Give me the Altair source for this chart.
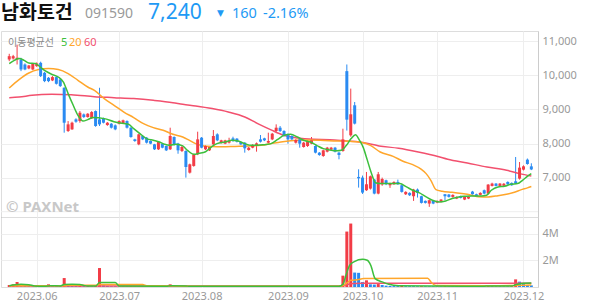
import altair as alt
import pandas as pd

RED = "#f23c46"
BLUE = "#2a8bf2"
MA5_C = "#3cbf3c"
MA20_C = "#ffa62b"
MA60_C = "#f2506e"
TITLE_BLUE = "#1e9af5"

# ---- daily candles (trading-day index 0..133, 2023-05-22 .. 2023-12-05) ----
opens = [10465, 10494, 10465, 10465, 10318, 10201, 10172, 10270, 10367, 10074,
         9928, 9850, 9948, 9879, 9635, 8366, 8415, 8708, 8659, 8854,
         8776, 8737, 8952, 8708, 8737, 8542, 8581, 8532, 8581, 8600,
         8659, 8464, 8122, 7976, 8220, 8171, 8074, 7976, 7830, 7996,
         7927, 7830, 8191, 8000, 7781, 7781, 7146, 7342, 7683, 8171,
         7830, 7800, 7976, 8269, 8025, 7996, 8025, 8152, 8142, 8044,
         8025, 7810, 7878, 7927, 8122, 8152, 8025, 8122, 8366, 8464,
         8366, 8269, 8220, 8025, 8122, 7898, 7927, 7996, 7927, 7732,
         7634, 7761, 7820, 7878, 7732, 7781, 10123, 8240, 9121, 7020,
         7000, 6630, 6678, 6942, 6532, 6800, 6922, 6776, 6805, 6873,
         6776, 6512, 6552, 6454, 6649, 6454, 6317, 6239, 6317, 6269,
         6288, 6512, 6503, 6434, 6386, 6454, 6356, 6386, 6590, 6512,
         6493, 6630, 6532, 6756, 6825, 6756, 6760, 6873, 6844, 6893,
         6971, 7234, 7527, 7330]
highs = [10631, 10600, 10900, 10514, 10350, 10300, 10360, 10380, 10400, 10100,
         9950, 9980, 9970, 9900, 9650, 8659, 8640, 8740, 8952, 8880,
         8890, 8950, 8970, 9635, 8760, 8630, 8600, 8560, 8680, 8700,
         8680, 8480, 8140, 8290, 8240, 8190, 8090, 7990, 8060, 8010,
         7940, 8464, 8210, 8020, 7950, 7800, 7410, 7700, 8347, 8190,
         7950, 7920, 8396, 8300, 8110, 8110, 8170, 8200, 8160, 8060,
         8040, 7900, 7980, 8030, 8249, 8170, 8318, 8310, 8562, 8513,
         8390, 8290, 8240, 8130, 8140, 8050, 8100, 8191, 7950, 7750,
         7820, 7900, 7900, 7900, 7750, 8435, 10318, 9610, 9218, 7244,
         7060, 7166, 7060, 6960, 7166, 7000, 6940, 6850, 6890, 6942,
         6800, 6600, 6570, 6670, 6680, 6470, 6330, 6350, 6330, 6330,
         6370, 6520, 6520, 6510, 6450, 6470, 6450, 6450, 6610, 6530,
         6570, 6650, 6810, 6850, 6840, 6840, 6840, 6890, 6860, 7605,
         7458, 7360, 7560, 7420]
lows = [10416, 10460, 10318, 10123, 10150, 10180, 10150, 10250, 9950, 9800,
        9800, 9830, 9730, 9660, 8318, 8340, 8400, 8610, 8610, 8750,
        8760, 8720, 8490, 8513, 8590, 8520, 8440, 8390, 8560, 8580,
        8440, 8170, 8050, 7950, 8100, 8000, 7980, 7810, 7810, 7860,
        7780, 7810, 7940, 7700, 7750, 7000, 7120, 7320, 7660, 7860,
        7810, 7780, 7927, 8070, 8000, 7980, 8000, 8050, 8030, 7960,
        7732, 7790, 7860, 7761, 8030, 8070, 8000, 8100, 8340, 8340,
        8200, 7996, 8100, 8000, 7878, 7880, 7900, 7980, 7710, 7640,
        7610, 7740, 7800, 7740, 7537, 7760, 8380, 8200, 8560, 6707,
        6520, 6610, 6650, 6510, 6510, 6760, 6780, 6700, 6790, 6790,
        6560, 6490, 6460, 6317, 6415, 6240, 6240, 6142, 6220, 6250,
        6270, 6337, 6415, 6415, 6370, 6390, 6340, 6370, 6500, 6440,
        6480, 6510, 6510, 6740, 6740, 6740, 6745, 6790, 6760, 6810,
        6942, 7210, 7380, 7220]
closes = [10562, 10562, 10514, 10172, 10172, 10289, 10338, 10348, 9977, 9830,
          9830, 9948, 9752, 9684, 8610, 8562, 8610, 8640, 8903, 8776,
          8874, 8923, 8513, 8562, 8610, 8610, 8464, 8415, 8659, 8680,
          8464, 8191, 8074, 8269, 8122, 8025, 7996, 7830, 8044, 7878,
          7800, 8220, 7956, 7800, 7898, 7312, 7390, 7683, 8122, 7878,
          7927, 7898, 8220, 8093, 8093, 8093, 8074, 8074, 8054, 7976,
          7859, 7878, 7956, 8005, 8054, 8093, 8074, 8288, 8464, 8366,
          8220, 8122, 8122, 8103, 7996, 8025, 8074, 8093, 7732, 7664,
          7800, 7878, 7878, 7761, 7664, 8122, 8700, 8857, 8584, 6980,
          6561, 6805, 7039, 6532, 7098, 6960, 6805, 6825, 6873, 6805,
          6581, 6581, 6483, 6649, 6552, 6259, 6259, 6337, 6239, 6317,
          6356, 6454, 6434, 6493, 6434, 6405, 6434, 6434, 6512, 6454,
          6552, 6532, 6795, 6825, 6756, 6825, 6820, 6805, 6776, 6825,
          7293, 7331, 7400, 7240]
# volume in millions of shares
volumes_m = [0.15, 0.20, 0.37, 0.10, 0.08, 0.08, 0.07, 0.07, 0.07, 0.06,
             0.20, 0.08, 0.07, 0.06, 0.67, 0.10, 0.08, 0.07, 0.09, 0.06,
             0.06, 0.05, 0.08, 1.42, 0.12, 0.08, 0.06, 0.06, 0.05, 0.05,
             0.05, 0.06, 0.05, 0.05, 0.04, 0.04, 0.04, 0.04, 0.04, 0.04,
             0.04, 0.20, 0.05, 0.05, 0.04, 0.05, 0.05, 0.04, 0.06, 0.05,
             0.04, 0.04, 0.05, 0.04, 0.04, 0.04, 0.04, 0.04, 0.04, 0.04,
             0.04, 0.04, 0.04, 0.04, 0.04, 0.04, 0.04, 0.05, 0.06, 0.05,
             0.04, 0.04, 0.04, 0.04, 0.04, 0.04, 0.04, 0.04, 0.04, 0.04,
             0.04, 0.04, 0.04, 0.04, 0.04, 0.85, 4.15, 4.75, 1.08, 1.06,
             0.37, 0.50, 0.20, 0.18, 0.22, 0.15, 0.10, 0.08, 0.07, 0.07,
             0.08, 0.06, 0.06, 0.06, 0.05, 0.06, 0.05, 0.05, 0.05, 0.05,
             0.05, 0.06, 0.05, 0.05, 0.05, 0.05, 0.05, 0.05, 0.05, 0.05,
             0.05, 0.05, 0.13, 0.08, 0.06, 0.06, 0.05, 0.05, 0.06, 0.57,
             0.40, 0.25, 0.15, 0.12]

# ---- moving averages (index, value) ----
ma5_x = [0.0, 1.3, 2.5, 3.8, 5.0, 6.7, 7.9, 9.2, 10.8, 12.5, 13.8, 15.0, 16.3, 17.5, 18.8, 20.0,
         21.3, 24.2, 26.7, 29.2, 30.4, 31.7, 33.3, 35.0, 36.7, 38.3, 39.6, 40.8, 42.5, 44.2,
         45.4, 47.1, 48.3, 50.0, 51.7, 52.9, 55.0, 56.7, 58.3, 60.0, 61.7, 63.3, 65.0, 66.7,
         68.4, 70.0, 71.7, 73.4, 75.0, 76.7, 78.4, 80.0, 81.7, 83.4, 84.6, 85.9, 87.1, 88.2,
         89.2, 90.2, 91.2, 92.2, 93.3, 94.5, 96.2, 99.5, 101.2, 102.8, 104.5, 106.2, 107.8,
         109.5, 111.2, 112.8, 114.5, 116.2, 117.8, 120.3, 121.6, 122.8, 124.5, 126.2, 127.8,
         129.5, 130.75, 132.0, 133.0]
ma5_y = [10344, 10440, 10490, 10440, 10361, 10344, 10244, 10127, 10030, 9951, 9804, 9464, 9121,
         8827, 8660, 8701, 8760, 8730, 8640, 8584, 8564, 8437, 8290, 8144, 8094, 8044, 7977,
         7947, 7977, 7930, 7800, 7683, 7712, 7760, 7918, 7997, 8044, 8094, 8074, 7997, 7947,
         7947, 7967, 7997, 8120, 8241, 8270, 8192, 8094, 8044, 7940, 7850, 7810, 7785, 7800,
         7950, 8144, 8260, 8100, 7880, 7520, 7150, 6850, 6825, 6825, 6825, 6727, 6630, 6552,
         6434, 6337, 6288, 6317, 6386, 6434, 6454, 6464, 6464, 6483, 6630, 6727, 6747, 6805,
         6825, 6922, 7039, 7120]
ma20_x = [0.0, 2.5, 5.0, 7.5, 10.0, 12.5, 15.0, 17.5, 20.0, 21.7, 24.2, 26.7, 29.2, 31.7, 34.2,
          36.7, 39.2, 41.7, 44.2, 45.9, 47.5, 49.2, 51.7, 54.2, 57.5, 60.8, 64.2, 66.7, 69.2,
          71.7, 75.0, 79.2, 83.4, 86.7, 89.2, 92.0, 94.5, 97.8, 100.3, 102.8, 104.9, 106.2,
          107.4, 108.7, 110.3, 112.8, 115.3, 117.8, 119.5, 122.0, 124.5, 127.0, 128.7, 130.3,
          132.0, 133.0]
ma20_y = [9628, 9874, 10068, 10168, 10197, 10168, 10050, 9854, 9657, 9560, 9317, 9121, 8924,
          8760, 8584, 8467, 8387, 8270, 8192, 8094, 7997, 7935, 7910, 7905, 7915, 7925, 7950,
          7997, 8044, 8080, 8100, 8094, 8074, 8064, 8044, 7946, 7751, 7624, 7480, 7380, 7250,
          7117, 6922, 6649, 6600, 6570, 6532, 6483, 6440, 6434, 6470, 6520, 6570, 6640, 6700,
          6740]
ma60_x = [0.0, 2.5, 5.8, 10.8, 15.8, 21.7, 26.7, 31.7, 36.7, 41.7, 44.2, 47.5, 51.7, 55.8,
          60.0, 63.3, 66.7, 70.0, 73.4, 77.5, 81.7, 85.9, 89.2, 94.2, 99.2, 104.2, 109.2,
          111.7, 116.7, 121.7, 126.7, 130.0, 133.0]
ma60_y = [9346, 9364, 9414, 9443, 9433, 9375, 9346, 9317, 9267, 9199, 9150, 9101, 9024, 8924,
          8778, 8584, 8400, 8241, 8163, 8124, 8114, 8074, 8044, 7930, 7860, 7750, 7620, 7540,
          7428, 7311, 7214, 7117, 7045]

vma5_x = [0, 1.5, 3, 5, 6.5, 9, 10.5, 13, 14, 16, 18, 19, 20, 22, 23, 27, 28, 40, 41, 45, 46,
          84, 85, 85.8, 86.7, 87.9, 90, 91.2, 92.1, 93.2, 95, 96.7, 99.2, 121, 122, 126, 128,
          129, 130, 131, 133]
vma5_y = [0.10, 0.17, 0.20, 0.17, 0.08, 0.06, 0.10, 0.08, 0.18, 0.20, 0.19, 0.12, 0.07, 0.07,
          0.33, 0.33, 0.08, 0.05, 0.09, 0.08, 0.05, 0.05, 0.20, 0.90, 1.62, 1.90, 2.07, 2.00,
          1.62, 0.63, 0.38, 0.20, 0.10, 0.06, 0.08, 0.08, 0.07, 0.17, 0.24, 0.28, 0.30]
vma20_x = [0, 14, 15, 22, 23, 34, 35, 42, 43, 84, 85, 86, 87, 88.7, 90.3, 106.6, 107.5, 108.7,
           122, 129, 133]
vma20_y = [0.10, 0.10, 0.13, 0.13, 0.18, 0.18, 0.10, 0.08, 0.06, 0.05, 0.10, 0.30, 0.50, 0.55,
           0.63, 0.65, 0.35, 0.12, 0.10, 0.12, 0.15]
vma60_x = [0, 84, 85, 86, 87, 88, 90, 133]
vma60_y = [0.08, 0.08, 0.10, 0.17, 0.25, 0.27, 0.29, 0.29]

month_idx = [7, 28, 49, 71, 90, 109, 131]
month_labels = ["2023.06", "2023.07", "2023.08", "2023.09", "2023.10", "2023.11", "2023.12"]
price_ticks = [7000, 8000, 9000, 10000, 11000]
price_labels = ["7,000", "8,000", "9,000", "10,000", "11,000"]
price_extra_grid = [6000]
vol_ticks = [2e6, 4e6]
vol_labels = ["2M", "4M"]

# ---- tables ----
n = len(closes)
candles = pd.DataFrame({"i": list(range(n)), "o": opens, "h": highs, "l": lows, "c": closes})
candles["dir"] = ["up" if c >= o else "down" for o, c in zip(opens, closes)]
vol = pd.DataFrame({"i": list(range(n)), "v": [v * 1e6 for v in volumes_m]})
vol["dir"] = ["up" if k == 0 or volumes_m[k] > volumes_m[k - 1] else "down" for k in range(n)]

def line_df(xs_, ys_, mult=1.0):
    return pd.DataFrame({"i": xs_, "p": [y * mult for y in ys_]})

def expr_map(vals, labs):
    e = ""
    for v, l in zip(vals, labs):
        e += f"datum.value == {v:g} ? '{l}' : "
    return e + "''"

W = 537
xs = alt.Scale(domain=[-0.825, 133.425], nice=False, zero=False)
ys = alt.Scale(domain=[5845, 11300], nice=False, zero=False)
vs = alt.Scale(domain=[0, 5.24e6], nice=False)
cs = alt.Scale(domain=["up", "down"], range=[RED, BLUE])
color = alt.Color("dir:N", scale=cs, legend=None)
one = pd.DataFrame({"a": [0]})

# ---- title row ----
def txt(s, x, y, size, col, font="Noto Sans", weight="normal"):
    return alt.Chart(one).mark_text(text=s, align="left", baseline="alphabetic", fontSize=size,
                                    color=col, font=font, fontWeight=weight).encode(
        x=alt.value(x), y=alt.value(y))

title = alt.layer(
    txt("남화토건", 0, 18, 19.5, "#111111", font="Noto Sans CJK KR", weight="bold"),
    txt("091590", 84, 16.8, 14, "#9a9a9a"),
    txt("7,240", 147, 17.5, 21, TITLE_BLUE),
    txt("▼", 216, 14.5, 9, TITLE_BLUE, font="DejaVu Sans"),
    txt("160", 231, 16.8, 14.5, TITLE_BLUE),
    txt("-2.16%", 262, 16.8, 14.5, TITLE_BLUE),
).properties(width=W, height=30, view=alt.ViewBackground(stroke="transparent"))

# ---- price panel ----
x_price = alt.X("i:Q", scale=xs, axis=alt.Axis(values=month_idx, labels=False, ticks=False, title=None,
                                               domainColor="#444444", grid=True, gridColor="#eeeeee",
                                               minExtent=0, maxExtent=0))
y_price = alt.Y("l:Q", scale=ys, axis=alt.Axis(
    orient="right", values=price_ticks,
    labelExpr=expr_map(price_ticks, price_labels),
    labelOverlap=False, labelBound=False,
    ticks=False, title=None, domainColor="#cccccc", gridColor="#eeeeee",
    labelColor="#999999", labelFontSize=11, labelPadding=4, labelFont="Noto Sans"))

wick = alt.Chart(candles).mark_rule(strokeWidth=1).encode(x=x_price, y=y_price, y2="h:Q", color=color)
body = alt.Chart(candles).mark_bar(size=3).encode(x="i:Q", y="o:Q", y2="c:Q", color=color)
grid6000 = alt.Chart(pd.DataFrame({"p": price_extra_grid})).mark_rule(color="#eeeeee", strokeWidth=1).encode(
    y="p:Q")

def ma_line(df, col):
    return alt.Chart(df).mark_line(color=col, strokeWidth=1.5, interpolate="monotone", clip=True).encode(
        x="i:Q", y="p:Q")

price = alt.layer(
    wick,
    grid6000,
    ma_line(line_df(ma60_x, ma60_y), MA60_C),
    ma_line(line_df(ma20_x, ma20_y), MA20_C),
    body,
    ma_line(line_df(ma5_x, ma5_y), MA5_C),
    txt("이동평균선", 7, 14.5, 10, "#8a8a8a", font="Noto Sans CJK KR"),
    txt("5", 60, 14.5, 11, MA5_C),
    txt("20", 68, 14.5, 11, MA20_C),
    txt("60", 83, 14.5, 11, MA60_C),
    txt("© PAXNet", 5, 181, 15, "#c8c8c8", weight="bold"),
).properties(width=W, height=186)

# ---- volume panel ----
x_vol = alt.X("i:Q", scale=xs, axis=alt.Axis(values=month_idx, labelExpr=expr_map(month_idx, month_labels),
                                             ticks=False, title=None,
                                             domain=False, grid=True, gridColor="#eeeeee",
                                             labelColor="#999999", labelFontSize=11, labelFlush=False,
                                             labelOverlap=False, labelPadding=3, labelFont="Noto Sans"))
y_vol = alt.Y("v:Q", scale=vs, axis=alt.Axis(
    orient="right", values=vol_ticks, labelExpr=expr_map(vol_ticks, vol_labels),
    labelOverlap=False,
    ticks=False, title=None, domainColor="#cccccc", gridColor="#eeeeee",
    labelColor="#999999", labelFontSize=11, labelPadding=4, labelFont="Noto Sans"))

bars = alt.Chart(vol).mark_bar(size=3).encode(x=x_vol, y=y_vol, color=color)

volume = alt.layer(
    bars,
    ma_line(line_df(vma60_x, vma60_y, 1e6), MA60_C),
    ma_line(line_df(vma20_x, vma20_y, 1e6), MA20_C),
    ma_line(line_df(vma5_x, vma5_y, 1e6), MA5_C),
).properties(width=W, height=70)

chart = alt.vconcat(title, price, volume, spacing=0, bounds="flush").properties(
    padding={"left": 0, "top": 0, "right": 0, "bottom": 0},
    background="white",
).configure_view(stroke="#dddddd")

chart.save("out.html", embed_options={"renderer": "svg", "actions": False})
